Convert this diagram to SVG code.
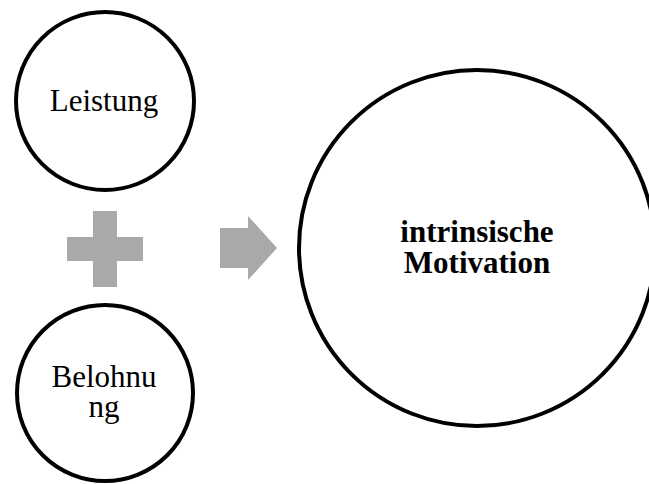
<svg xmlns="http://www.w3.org/2000/svg" width="649" height="484" viewBox="0 0 649 484">
<style>
.node{fill:#fff;stroke:#000;stroke-width:4}
.lbl{font-family:"Liberation Serif","Times New Roman",serif;font-size:31px;fill:#000;text-anchor:middle}
.b{font-weight:bold}
.sym{fill:#a9a9a9}
</style>
<rect width="649" height="484" fill="#fff"/>
<g id="connectors">
<path class="sym" d="M93,211H117V237H143V261H117V287H93V261H67V237H93Z"/>
<path class="sym" d="M220,228H248V216L277,248L248,280V268H220Z"/>
</g>
<g id="leistung">
<circle class="node" cx="105" cy="101" r="89"/>
<text class="lbl" x="104" y="111">Leistung</text>
</g>
<g id="belohnung">
<circle class="node" cx="105" cy="393" r="88"/>
<text class="lbl" x="104" y="387">Belohnu<tspan x="104" dy="30">ng</tspan></text>
</g>
<g id="motivation">
<circle class="node" cx="477" cy="248" r="178" stroke-width="4.5"/>
<text class="lbl b" x="477" y="242">intrinsische<tspan x="477" dy="31">Motivation</tspan></text>
</g>
</svg>
